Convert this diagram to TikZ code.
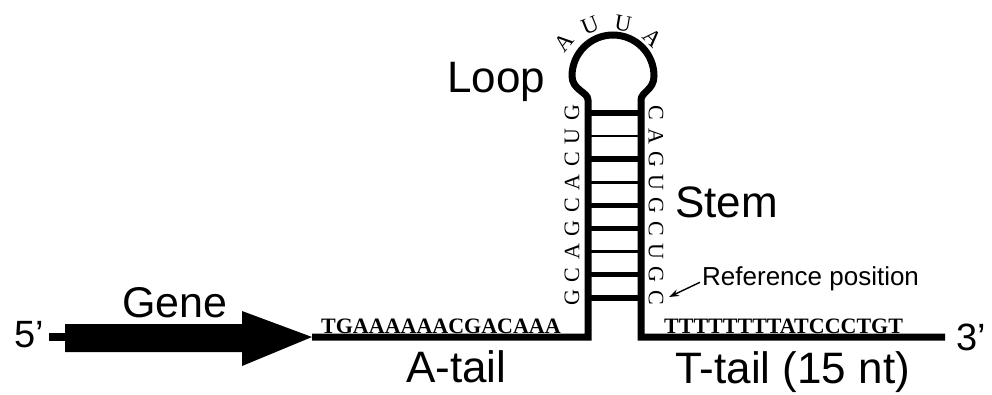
\documentclass[tikz,border=0pt]{standalone}
\usepackage{fontspec}
\usepackage{graphicx}
\setmainfont{Liberation Serif}
\newfontfamily\lsans{Liberation Sans}
\usetikzlibrary{arrows.meta}
\begin{document}
\begin{tikzpicture}[x=1pt,y=1pt,
  lbl/.style={inner sep=0pt, anchor=base west, font=\lsans\fontsize{44}{44}\selectfont},
  seq/.style={inner sep=0pt, anchor=base west, font=\bfseries\fontsize{22}{22}\selectfont},
  base/.style={inner sep=0pt, font=\fontsize{22}{22}\selectfont},
  backbone/.style={line width=7pt, line join=miter},
  refarrow/.style={line width=1.4pt, -{Stealth[length=10pt,width=7pt]}}
]
\useasboundingbox (0,0) rectangle (992,-394);

% gene arrow
\coordinate (g0) at (49,-337);
\coordinate (gb) at (66,-337);
\coordinate (tip) at (312,-337);
\fill (65,-324) -- (242,-324) -- (242,-311) -- (tip) -- (242,-366) -- (242,-352) -- (65,-352) -- cycle;
\draw[line width=8pt] (g0) -- (gb);

% backbone with hairpin
\coordinate (end3) at (945,-337);
\coordinate (lb) at (588,-337);
\coordinate (rb) at (641,-337);
\draw[backbone] (tip) -- (lb) -- (588,-100)
  .. controls (588,-92) and (572,-90) .. (572,-76)
  arc[start angle=180,end angle=0,radius=41]
  .. controls (654,-90) and (641,-92) .. (641,-100) -- (rb) -- (end3);

% rungs
\foreach \i/\w in {0/5.5,1/2.5,2/5.5,3/2.5,4/5.5,5/5.5,6/2.5,7/5.5,8/5.5} {
  \coordinate (L\i) at (588,{-113-23.1*\i});
  \coordinate (R\i) at (641,{-113-23.1*\i});
  \draw[line width=\w pt] (L\i) -- (R\i);
}

% stem letters
\foreach \i/\l in {0/G,1/U,2/C,3/A,4/C,5/G,6/A,7/C,8/G}
  \node[base, rotate=90] (sl\i) at (572,{-113-23.1*\i}) {\l};
\foreach \i/\l in {0/C,1/A,2/G,3/U,4/G,5/C,6/U,7/G,8/C}
  \node[base, rotate=-90] (sr\i) at (656,{-113-23.1*\i}) {\l};

% loop letters
\node[base, font=\fontsize{23}{23}\selectfont, rotate=50] (la1) at (564,-42) {A};
\node[base, font=\fontsize{23}{23}\selectfont, rotate=22] (lu1) at (590,-26) {U};
\node[base, font=\fontsize{23}{23}\selectfont, rotate=-10] (lu2) at (623,-24) {U};
\node[base, font=\fontsize{23}{23}\selectfont, rotate=-44] (la2) at (653,-38) {A};

% sequences
\node[seq] (aseq) at (321,-333) {TGAAAAAACGACAAA};
\node[seq] (tseq) at (664,-333) {TTTTTTTTATCCCTGT};

% labels
\node[lbl] (loop) at (447,-92) {Loop};
\node[lbl] (stem) at (675,-217) {Stem};
\node[lbl, font=\lsans\fontsize{43}{43}\selectfont] (gene) at (122,-317) {Gene};
\node[lbl] (atail) at (406,-382) {A-tail};
\node[lbl] (ttail) at (675,-383) {T-tail (15 nt)};
\node[lbl, font=\lsans\fontsize{38}{38}\selectfont] (p5) at (14,-347) {5’};
\node[lbl, font=\lsans\fontsize{38}{38}\selectfont] (p3) at (956,-350) {3’};

% reference position
\node[inner sep=0pt, anchor=base west, font=\lsans\fontsize{26}{26}\selectfont] (ref) at (702,-285) {Reference position};
\coordinate (reftip) at (669,-297);
\draw[refarrow] ([shift={(-2,-4)}]ref.west) -- (reftip);
\end{tikzpicture}
\end{document}
